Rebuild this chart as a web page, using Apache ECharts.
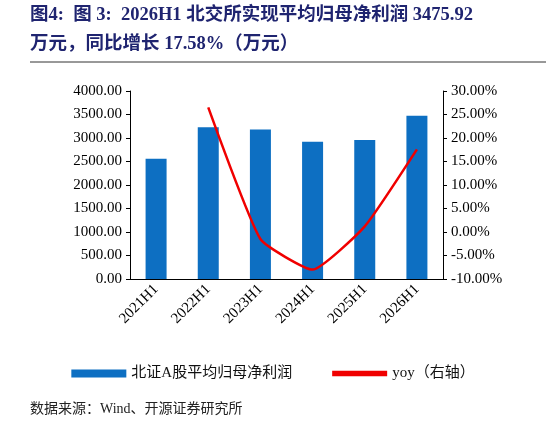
<!DOCTYPE html>
<html><head><meta charset="utf-8">
<script src="https://cdn.jsdelivr.net/npm/echarts@6/dist/echarts.min.js"></script>
<style>body{margin:0}#main{width:546px;height:438px}</style>
</head><body><div id="main"></div>
<script>
const categories = ['2021H1', '2022H1', '2023H1', '2024H1', '2025H1', '2026H1'];
const profit = [2560, 3230, 3180, 2920, 2955, 3475.92];
const yoy = [null, 26.5, -1.5, -8.0, 1.2, 17.58];

let chart = echarts.init(document.getElementById('main'));
const font = '"Liberation Serif", "Noto Sans CJK SC", serif';
chart.setOption({
    textStyle: { fontFamily: font },
    graphic: [
        { type: 'text', left: 30, top: 6, style: { text: '图4:  图 3:  2026H1 北交所实现平均归母净利润 3475.92', font: 'bold 18.5px ' + font, fill: '#1f2470' } },
        { type: 'text', left: 30, top: 35, style: { text: '万元，同比增长 17.58%（万元）', font: 'bold 18.5px ' + font, fill: '#1f2470' } },
        { type: 'line', shape: { x1: 30, y1: 62, x2: 546, y2: 62 }, style: { stroke: '#333', lineWidth: 1 } },
        { type: 'text', left: 30, top: 402, style: { text: '数据来源：Wind、开源证券研究所', font: '14px ' + font, fill: '#222' } }
    ],
    grid: { left: 130, right: 103, top: 91, bottom: 159 },
    legend: {
        bottom: 52, left: 'center', itemGap: 40,
        textStyle: { fontSize: 15, color: '#111' },
        data: [
            { name: '北证A股平均归母净利润', icon: 'rect', itemStyle: { color: '#0d6fc2' } },
            { name: 'yoy（右轴）', icon: 'path://M0,0H10V1H0Z' }
        ],
        itemWidth: 55, itemHeight: 8
    },
    xAxis: {
        type: 'category', data: categories,
        axisLine: { lineStyle: { color: '#000' } },
        axisTick: { show: false },
        axisLabel: { rotate: 45, color: '#000', fontSize: 15, margin: 8 }
    },
    yAxis: [
        { type: 'value', min: 0, max: 4000, interval: 500,
          axisLine: { show: true, lineStyle: { color: '#000' } }, axisTick: { show: true, length: 4 },
          splitLine: { show: false },
          axisLabel: { color: '#000', fontSize: 15, formatter: v => v.toFixed(2) } },
        { type: 'value', min: -10, max: 30, interval: 5,
          axisLine: { show: true, lineStyle: { color: '#000' } }, axisTick: { show: true, length: 4 },
          splitLine: { show: false },
          axisLabel: { color: '#000', fontSize: 15, formatter: v => v.toFixed(2) + '%' } }
    ],
    series: [
        { name: '北证A股平均归母净利润', type: 'bar', data: profit, barWidth: 21, itemStyle: { color: '#0d6fc2' } },
        { name: 'yoy（右轴）', type: 'line', yAxisIndex: 1, data: yoy, symbol: 'none', smooth: 0.15,
          lineStyle: { color: '#f00000', width: 2.5 }, itemStyle: { color: '#f00000' } }
    ]
});
</script></body></html>
